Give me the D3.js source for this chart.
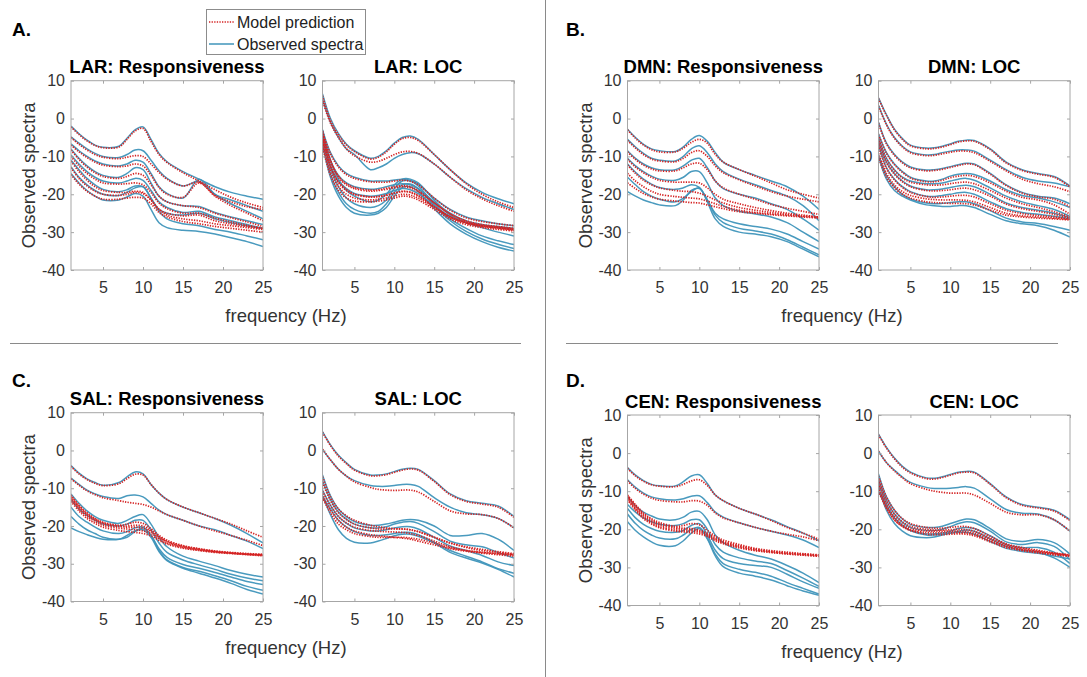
<!DOCTYPE html>
<html><head><meta charset="utf-8">
<script src="https://cdn.jsdelivr.net/npm/d3@7"></script>
<style>body{margin:0;background:#fff}svg{display:block}</style>
</head><body><svg id="c" width="1087" height="677"></svg>
<script>
// ---------- data ----------
const freqs = [1,2,3,4,5,7,8,9,10,11,12,13,15,17,19,21,23,25];
const xTickValues = [5,10,15,20,25];
const yTickValues = [-40,-30,-20,-10,0,10];
const panelTitles = ["LAR: Responsiveness","LAR: LOC","DMN: Responsiveness","DMN: LOC","SAL: Responsiveness","SAL: LOC","CEN: Responsiveness","CEN: LOC"];
const panelLetters = ["A.","B.","C.","D."];
const legendLabels = ["Model prediction","Observed spectra"];
const axisLabelX = "frequency (Hz)";
const axisLabelY = "Observed spectra";

const larRespObs = [
 [-2,-4,-5.7,-7,-7.6,-7.3,-5.2,-3,-2.2,-5.5,-9.2,-11.4,-14,-16,-18,-19.5,-20.5,-21.3],
 [-4.8,-6.5,-8,-9.2,-10,-10.3,-9.5,-8.3,-8.5,-11,-13.8,-15.8,-17.8,-16.6,-20,-21.5,-23,-24.5],
 [-6.7,-8.5,-10,-11.2,-12,-12.5,-12,-11,-11.5,-14.5,-18,-19.8,-21,-16,-20,-22.5,-24.5,-26.5],
 [-8,-10.5,-12.5,-14,-15,-15.5,-14.5,-13,-13.5,-17,-20.5,-22,-23,-23.2,-24.8,-26,-27,-28],
 [-9.6,-12,-14,-15.5,-16.5,-17,-16.5,-15.8,-16.3,-19,-22,-23.5,-24.8,-24.5,-26,-27,-28,-29],
 [-11,-13.5,-15.8,-17.5,-18.7,-19.3,-18.8,-17.8,-18,-21,-24,-25,-25.5,-25,-26.5,-27.5,-28.3,-29],
 [-12.7,-15.5,-17.5,-19,-20,-20.3,-19.5,-18.3,-18,-21,-24.5,-26.5,-27.8,-28.3,-29.3,-30,-31,-32],
 [-14.5,-17,-19,-20.5,-21.5,-21.5,-20.7,-19.8,-20.5,-24,-27.5,-28.8,-29.5,-29.8,-30.5,-31.5,-32.5,-33.8]
];
const larRespModel = [
 [-2.2,-4.2,-5.9,-7.1,-7.7,-7.5,-5.5,-3.3,-2.6,-6,-9.5,-11.6,-14.3,-16.5,-18.8,-20.8,-22.3,-23.5],
 [-5,-6.8,-8.3,-9.5,-10.2,-10.6,-10.2,-9.8,-10,-12,-14.2,-16,-17.8,-16.8,-20.3,-22,-23.3,-24],
 [-7,-8.8,-10.3,-11.5,-12.3,-12.7,-12.5,-12,-12.5,-15,-18.2,-20,-20.8,-17,-20.5,-23,-25,-27],
 [-8.3,-10.8,-12.8,-14.3,-15.3,-15.8,-15.3,-14.5,-15,-17.5,-20.5,-22,-23,-23.5,-25,-26.2,-27.3,-28.5],
 [-10,-12.5,-14.5,-16,-17,-17.3,-17.2,-17,-17.5,-19.5,-22.3,-23.8,-25,-25,-26.3,-27.3,-28.2,-29],
 [-11.3,-14,-16.3,-18,-19,-19.5,-19.5,-19.2,-19.5,-21.5,-24,-25,-25.7,-25.5,-27,-27.8,-28.5,-29],
 [-13,-15.8,-17.8,-19.2,-20,-20.3,-20,-19.5,-19.8,-21.5,-24,-25.5,-26.5,-27,-27.8,-28.3,-28.8,-29.3],
 [-14.8,-17.3,-19.2,-20.5,-21.3,-21.3,-21,-20.8,-21,-22.5,-24.8,-26,-27.2,-27.8,-28.5,-29,-29.5,-30]
];
const larLocObs = [
 [6.5,0,-4,-6.8,-8.5,-10.5,-10,-8.5,-6.5,-5,-4.6,-5.5,-9.5,-13.5,-17,-19.5,-21.2,-22.5],
 [5,-1,-5,-8,-9.5,-13.5,-13,-12,-10.5,-9.5,-9,-9.3,-12,-15.5,-18.5,-20.8,-22.5,-24],
 [-3,-9,-12.5,-14.5,-15.5,-16.5,-16.5,-16.5,-16.2,-16,-16.3,-17.3,-21,-24,-26,-27,-27.8,-28.3],
 [-4,-11,-15,-17,-18,-18.7,-18.5,-18,-17.5,-17.2,-17.5,-18.5,-22,-25,-27,-28,-28.5,-29],
 [-5,-12.5,-16.5,-18.5,-19.8,-20.5,-20.3,-19.8,-19,-18.5,-18.8,-19.8,-23,-25.8,-27.5,-28.3,-28.8,-29.3],
 [-3,-11,-16,-19,-20.5,-22,-21.5,-20,-17.5,-16,-16,-17,-21.5,-25.5,-27.5,-28.8,-30,-31],
 [-4.5,-13,-18,-21,-22.5,-23.5,-23,-21.5,-18.5,-16.5,-16.5,-17.8,-22.5,-26.5,-29,-31,-32.3,-33.3],
 [-6,-14.5,-19.5,-22.5,-24,-25,-24.5,-22.5,-19.5,-17.5,-17.3,-18.5,-23,-27,-29.8,-31.8,-33.2,-34.3],
 [-7,-15.5,-20.5,-23.5,-25,-25.5,-25,-23.5,-20.5,-18.2,-18,-19.3,-23.8,-27.8,-30.5,-32.5,-34,-35]
];
const larLocModel = [
 [6,-0.5,-4.3,-7,-8.7,-10.7,-10.2,-8.8,-6.8,-5.3,-5,-5.8,-9.5,-13.5,-17.2,-20,-22,-23.5],
 [4.8,-1.2,-5,-8,-9.8,-11.5,-11.3,-10.5,-9.5,-8.8,-8.7,-9.2,-12,-15.5,-18.8,-21.2,-23,-24.5],
 [-3.5,-9.3,-12.8,-14.8,-15.8,-16.7,-16.8,-16.8,-16.5,-16.3,-16.6,-17.5,-21,-24.2,-26.2,-27.2,-27.8,-28.3],
 [-4.3,-11.3,-15.2,-17.2,-18.2,-18.9,-18.8,-18.4,-18,-17.7,-18,-19,-22.3,-25.2,-27.2,-28.2,-28.7,-29.2],
 [-5.3,-12.8,-16.7,-18.7,-20,-20.7,-20.6,-20.2,-19.6,-19.2,-19.4,-20.3,-23.3,-26,-27.6,-28.4,-28.9,-29.4],
 [-3.3,-11,-15.5,-17.5,-18.5,-19.2,-19,-18.7,-18.3,-18,-18.3,-19.3,-22.3,-25.2,-27,-28,-28.5,-29],
 [-4.8,-12.5,-17,-19,-20,-20.7,-20.6,-20.3,-19.8,-19.3,-19.5,-20.5,-23.3,-26,-27.5,-28.3,-28.8,-29.2],
 [-6.3,-14,-18,-20,-21,-21.5,-21.3,-21,-20.5,-20,-20.2,-21,-23.5,-26,-27.5,-28.5,-29,-29.5],
 [-7.3,-15,-19,-21,-21.8,-22,-21.8,-21.5,-21,-20.5,-20.7,-21.5,-24,-26.5,-28,-28.8,-29.3,-29.7]
];
const dmnRespObs = [
 [-2.8,-5,-6.8,-8,-8.5,-8.7,-7.5,-5.5,-4.5,-6,-9,-11.5,-13.5,-15,-16.5,-18,-20.5,-24],
 [-5.5,-7.5,-9.2,-10.5,-11,-11.2,-10,-8,-7.2,-9,-12,-14,-16,-17.5,-19,-20.5,-23,-27],
 [-8.5,-10.5,-12,-13,-13.5,-13.5,-12.5,-11,-10.5,-13,-16.5,-18.5,-20,-21,-22.5,-24,-26.5,-29.5],
 [-10.5,-12.5,-14,-15.2,-16,-16.3,-15.5,-14,-14,-17,-21,-23,-24.5,-25.2,-26,-27.5,-30,-32.5],
 [-12,-14.2,-16,-17.3,-18.2,-18.7,-18.3,-17.5,-18.2,-21.5,-25,-26.5,-27.8,-28.5,-29.2,-30.5,-32.5,-34.5],
 [-15.5,-17.5,-19.3,-20.5,-21.3,-22,-21,-19.3,-18.3,-22,-26.5,-28.5,-30,-30.5,-31.2,-32.5,-34.5,-36.5],
 [-19.3,-20.5,-21.5,-22.2,-22.8,-23,-21.5,-19,-18.5,-21.5,-25.5,-27.5,-29,-29.7,-30.5,-32,-34,-36]
];
const dmnRespModel = [
 [-3,-5.2,-7,-8.2,-8.8,-8.8,-7.8,-6.3,-5.5,-6.5,-9.5,-11.5,-13.5,-15.2,-17,-18.8,-20,-21],
 [-5.8,-7.8,-9.5,-10.7,-11.2,-11.4,-10.5,-9,-8.5,-10,-12.5,-14.3,-16.2,-17.8,-19.3,-20.5,-21.3,-22],
 [-8.8,-10.8,-12.3,-13.3,-13.8,-13.8,-13,-12,-11.8,-13.5,-16.5,-18.3,-20,-21.3,-22.7,-23.7,-24.5,-25.3],
 [-10.8,-12.8,-14.3,-15.5,-16.3,-16.8,-16.8,-16.8,-17,-18.3,-20,-21.3,-22.5,-23.5,-24.3,-25,-25.5,-26],
 [-12.3,-14.5,-16.3,-17.5,-18.3,-19,-19.2,-19.3,-19.7,-20.5,-21.5,-22.3,-23.5,-24.2,-24.8,-25.3,-25.8,-26],
 [-14.5,-16.5,-18,-19.2,-20,-20.6,-20.8,-21,-21.2,-21.8,-22.5,-23.2,-24.2,-24.8,-25.2,-25.5,-25.8,-26],
 [-17,-18.5,-19.8,-20.7,-21.3,-21.8,-22,-22.2,-22.3,-22.8,-23.3,-23.8,-24.6,-25,-25.4,-25.7,-26,-26.3]
];
const dmnLocObs = [
 [5.5,1,-2.8,-5.3,-7,-7.8,-7.7,-7.3,-6.7,-6,-5.7,-5.8,-8,-11.5,-13.5,-14.5,-15.3,-17.8],
 [3.5,-1.5,-5,-7.3,-8.8,-9.6,-9.5,-9,-8.6,-8.3,-8.3,-8.6,-11,-13.5,-15.5,-16.5,-17,-18],
 [-1,-6.5,-9.5,-11.5,-12.8,-13.6,-13.5,-13.2,-12.7,-12.2,-11.8,-12,-14.5,-17.5,-19.5,-20.5,-21,-22.5],
 [-4,-9,-12,-14,-15.5,-16.5,-16.5,-16,-15.2,-14.7,-14.5,-14.8,-16.5,-18.8,-20.3,-21,-22,-23.5],
 [-5,-10.5,-13.5,-15.5,-16.5,-17.2,-17.2,-17,-16.5,-16,-15.8,-16.3,-18.3,-20.5,-22,-23,-24,-25.8],
 [-6,-11.5,-14.5,-16.5,-17.8,-18.8,-18.8,-18.6,-18.2,-17.8,-17.6,-18,-20,-22.3,-23.5,-24.2,-25,-26.2],
 [-7,-13,-16,-18,-19.3,-20.5,-20.6,-20.3,-20,-19.6,-19.5,-20,-22,-23.8,-24.8,-25.3,-25.8,-26.5],
 [-9.5,-15,-18,-20,-21.2,-22.3,-22.5,-22.4,-22.2,-22,-22,-22.5,-24.3,-26.3,-27.3,-27.7,-28.5,-29.5],
 [-10,-16,-19,-20.5,-21.5,-22.8,-23,-23.2,-23.2,-23,-23,-23.5,-25.3,-27,-27.8,-28.3,-29.5,-31.3]
];
const dmnLocModel = [
 [5.3,0.8,-3,-5.5,-7.2,-8,-7.9,-7.5,-6.9,-6.2,-5.9,-6,-8.2,-11.7,-13.7,-14.7,-15.5,-18],
 [3.3,-1.7,-5.2,-7.5,-9,-9.8,-9.7,-9.3,-8.9,-8.6,-8.6,-9,-11.3,-13.8,-16,-17.2,-18,-19.3],
 [-1.2,-6.7,-9.7,-11.7,-13,-13.8,-13.7,-13.4,-12.9,-12.4,-12,-12.2,-14.7,-17.7,-19.7,-20.7,-21.3,-23.3],
 [-4.2,-9.2,-12.2,-14.2,-15.7,-16.7,-16.7,-16.3,-15.6,-15.2,-15,-15.3,-17,-19.2,-20.8,-21.5,-22.8,-25.3],
 [-5.2,-10.7,-13.7,-15.7,-16.8,-17.5,-17.6,-17.5,-17.2,-16.9,-16.8,-17.2,-19,-21,-22.5,-23.5,-24.6,-26],
 [-6.2,-11.7,-14.7,-16.7,-18,-19,-19.1,-19,-18.8,-18.5,-18.4,-18.8,-20.5,-22.6,-23.8,-24.5,-25.3,-26.3],
 [-7.2,-13.2,-16.2,-18.2,-19.5,-20.6,-20.8,-20.7,-20.5,-20.3,-20.3,-20.7,-22.5,-24.2,-25.1,-25.6,-26,-26.6],
 [-9.2,-14.5,-17.5,-19.3,-20.3,-21.2,-21.4,-21.5,-21.5,-21.5,-21.6,-22,-23.5,-25,-25.7,-26,-26.3,-26.6],
 [-10.2,-15.5,-18.3,-20,-21,-22,-22.2,-22.3,-22.4,-22.4,-22.5,-22.8,-24.2,-25.5,-26,-26.3,-26.5,-26.8]
];
const salRespObs = [
 [-4,-6,-7.5,-8.5,-9.2,-8.5,-7,-5.7,-6.2,-9,-11.3,-13,-15,-16.5,-18,-19.8,-22,-24.5],
 [-7.3,-9,-10.5,-11.5,-12.2,-12.7,-12,-11.8,-12.3,-14,-15.8,-17,-18.5,-20,-21,-22.5,-24,-26],
 [-11.5,-14,-16,-17.5,-18.5,-19.3,-18.5,-17.5,-17,-19.5,-23,-25.5,-28,-29.3,-30.5,-31.8,-32.8,-33.5],
 [-13,-15.5,-17.2,-18.5,-19.5,-20,-19.5,-18.5,-18.5,-21,-24.5,-27,-29,-30.3,-31.5,-32.8,-33.8,-34.5],
 [-15,-17.5,-19,-20.3,-21.3,-22,-21.5,-20.5,-20.3,-22.5,-26,-28.3,-30.2,-31.2,-32.3,-33.5,-34.7,-35.5],
 [-17.5,-19.5,-21,-22,-23,-23.5,-23,-21.5,-20.5,-22.5,-26.5,-29,-31,-32,-33.2,-34.5,-36,-37],
 [-20.5,-21.5,-22.3,-23,-23.5,-23.5,-22.5,-21.3,-21,-23,-26.8,-29.2,-31.2,-32.5,-33.8,-35.2,-36.8,-38]
];
const salRespModel = [
 [-4.2,-6.2,-7.7,-8.7,-9.3,-8.8,-7.5,-6.3,-6.5,-9,-11.3,-13,-15,-16.5,-18,-19.5,-21.3,-23],
 [-7.5,-9.2,-10.7,-11.7,-12.5,-13.3,-13.7,-14,-14.3,-15,-16,-17,-18.5,-20,-21.3,-22.5,-23.8,-25.2],
 [-11.8,-14.5,-16.5,-18,-19,-19.8,-19.5,-19,-19.3,-20.7,-22.5,-23.8,-25.2,-26,-26.6,-27,-27.3,-27.5],
 [-12.5,-15,-17,-18.4,-19.4,-20.2,-20.3,-20.3,-20.6,-21.5,-23,-24.2,-25.5,-26.2,-26.8,-27.2,-27.5,-27.7],
 [-13,-15.5,-17.5,-18.8,-19.8,-20.6,-20.8,-21,-21.3,-22,-23.4,-24.5,-25.7,-26.4,-26.9,-27.2,-27.5,-27.8],
 [-12.2,-14.8,-16.8,-18.2,-19.2,-20,-20,-19.8,-20,-21.2,-22.8,-24,-25.3,-26.1,-26.7,-27.1,-27.4,-27.6],
 [-13.5,-16,-18,-19.3,-20.3,-21.2,-21.5,-21.7,-22,-22.6,-23.8,-24.8,-25.9,-26.5,-27,-27.3,-27.6,-27.9]
];
const salLocObs = [
 [5,1.5,-1.3,-3.3,-5,-6.5,-6.5,-6.2,-5.6,-5,-4.7,-5,-8,-11.5,-13.3,-14,-14.7,-17.5],
 [0.3,-2.5,-5,-6.8,-8,-9.3,-9.5,-9.5,-9.3,-9,-9,-9.5,-12.5,-15,-16.5,-17,-18,-20.5],
 [-6.5,-12,-15.5,-17.5,-18.8,-19.8,-19.8,-19.5,-19,-18.5,-18.3,-18.5,-20,-22.5,-22.5,-22,-23.5,-26.5],
 [-8,-13,-16.3,-18.2,-19.5,-20.5,-20.5,-20.2,-19.5,-19,-18.8,-19.3,-21.5,-24,-25,-25.5,-27,-28.5],
 [-10.5,-14.5,-17.5,-19.3,-20.5,-21.3,-21.3,-21,-20.5,-20.2,-20.2,-20.8,-23,-25.3,-26.5,-27.8,-29.5,-30.5],
 [-12,-15.5,-18.5,-20.3,-21.5,-22.5,-22.5,-22.3,-22,-21.7,-21.7,-22.3,-24.3,-26.5,-28,-29.5,-31.3,-32.5],
 [-12,-17,-21,-23.3,-24.3,-24.5,-24,-23.3,-22.6,-22.2,-22.2,-22.7,-24.5,-27,-28.5,-29.8,-31.5,-33.5]
];
const salLocModel = [
 [4.8,1.3,-1.5,-3.5,-5.2,-6.7,-6.7,-6.4,-5.8,-5.2,-4.9,-5.2,-8.2,-11.7,-13.5,-14.2,-15,-17.7],
 [0.3,-2.5,-5,-6.8,-8.3,-9.8,-10.3,-10.5,-10.6,-10.5,-10.5,-11,-13.5,-16,-16.8,-17,-18,-20.5],
 [-7,-12.3,-15.5,-17.3,-18.5,-19.8,-20.2,-20.5,-20.7,-20.8,-21,-21.5,-23,-24.5,-25.5,-26.2,-26.8,-27.3],
 [-8.5,-13.3,-16.5,-18.3,-19.5,-20.5,-20.8,-20.8,-20.8,-20.8,-21,-21.5,-23,-24.5,-25.7,-26.5,-27,-27.5],
 [-10.8,-14.7,-17.5,-19.2,-20.3,-21.2,-21.4,-21.5,-21.6,-21.7,-22,-22.5,-24,-25.5,-26.5,-27,-27.4,-27.7],
 [-12.2,-15.8,-18.5,-20.3,-21.3,-22.3,-22.6,-22.8,-23,-23.2,-23.5,-24,-25,-26,-26.7,-27.2,-27.6,-28],
 [-12.5,-16.5,-19.5,-21,-22,-22.8,-23,-23,-23,-23,-23.2,-23.5,-24.5,-25.8,-26.5,-27,-27.3,-27.6]
];
const cenRespObs = [
 [-3.8,-5.8,-7.2,-8.2,-8.6,-8.6,-7.5,-6,-5.7,-8,-11,-12.5,-14.5,-16,-17.5,-19.3,-21,-23],
 [-7,-9,-10.5,-11.5,-12,-12.3,-12,-11.3,-11.2,-13,-15.5,-16.8,-18.3,-19.5,-20.5,-21.5,-22.8,-24.8],
 [-11.5,-13.8,-15.5,-16.5,-17.3,-17.5,-16.8,-15.5,-15.3,-17.5,-21.5,-23.5,-25.5,-26.8,-27.8,-29.5,-31.5,-34],
 [-13.5,-15.5,-17,-18,-18.7,-19,-18.5,-17.5,-17.5,-20,-24,-26,-27.5,-28.3,-29,-30.8,-32.8,-35],
 [-14.5,-17,-18.7,-19.8,-20.5,-20.8,-20.3,-19,-18.5,-21.5,-25.5,-27.7,-29,-29.5,-30,-31.8,-33.8,-35.5],
 [-16,-18.5,-20.3,-21.5,-22.3,-22.5,-21.5,-20,-19.5,-22.3,-26.5,-29,-30.5,-31.3,-32.3,-34,-35.5,-37],
 [-18,-20.3,-22,-23.3,-24.2,-24.3,-23,-21,-19.8,-22.5,-27,-29.8,-31.5,-32.3,-33.3,-34.8,-36.2,-37.3]
];
const cenRespModel = [
 [-4,-6,-7.4,-8.3,-8.7,-8.8,-8.2,-7.3,-7,-8.5,-11,-12.5,-14.5,-16,-17.7,-19.5,-21,-22.6],
 [-7.3,-9.3,-10.8,-11.8,-12.4,-12.8,-12.8,-12.5,-12.6,-13.7,-15.7,-17,-18.3,-19.5,-20.5,-21.3,-22,-23],
 [-11,-13.5,-15.7,-17.2,-18.2,-19.2,-19,-18.5,-18.8,-20.3,-21.8,-22.8,-24,-25,-25.6,-26,-26.4,-26.7],
 [-11.3,-13.8,-16,-17.5,-18.5,-19.5,-19.7,-19.8,-20.2,-21,-22.2,-23.2,-24.3,-25.2,-25.8,-26.2,-26.5,-26.8],
 [-11.6,-14.2,-16.4,-17.9,-18.9,-19.8,-20,-20.2,-20.5,-21.3,-22.5,-23.4,-24.5,-25.3,-25.9,-26.3,-26.6,-26.9],
 [-12,-14.6,-16.8,-18.3,-19.3,-20.2,-20.4,-20.5,-20.8,-21.6,-22.7,-23.6,-24.7,-25.5,-26,-26.4,-26.7,-27],
 [-12.3,-15,-17.2,-18.6,-19.6,-20.5,-20.7,-20.9,-21.2,-21.9,-23,-23.8,-24.9,-25.6,-26.1,-26.5,-26.8,-27.1]
];
const cenLocObs = [
 [5,1.5,-1.3,-3.5,-5,-6.5,-6.6,-6.2,-5.6,-5,-4.8,-5,-8,-11.5,-13.5,-14.2,-15,-17.5],
 [0.5,-2.5,-4.5,-6.3,-7.7,-9,-9.3,-9.3,-9.2,-9,-8.8,-9.2,-12,-14.8,-15.8,-16,-17.5,-20.5],
 [-5.5,-11.5,-15,-17.3,-18.7,-19.5,-19.5,-19.2,-18.5,-17.8,-17.3,-17.5,-19.8,-22.5,-23.2,-22.7,-23.5,-26.5],
 [-7,-12.5,-16,-18.2,-19.5,-20.3,-20.3,-20,-19.3,-18.5,-18,-18.3,-20.5,-23.3,-24,-23.5,-24.5,-28],
 [-8,-13.5,-17,-19,-20.3,-21.2,-21.2,-21,-20.5,-19.8,-19.5,-19.8,-21.7,-24,-24.8,-24.8,-26,-29],
 [-9,-15,-18.5,-20.5,-21.7,-22.2,-22,-21.5,-21,-20.5,-20.2,-20.5,-22.5,-24.5,-25.5,-26,-27.5,-30],
 [-10,-14,-17,-19,-20.3,-21.5,-21.5,-21.3,-21,-20.8,-20.8,-21.3,-23.2,-25,-25.8,-26.3,-27,-27.8]
];
const cenLocModel = [
 [4.8,1.3,-1.5,-3.7,-5.2,-6.7,-6.8,-6.4,-5.8,-5.2,-5,-5.2,-8.2,-11.7,-13.7,-14.4,-15.2,-17.7],
 [0.5,-2.5,-4.7,-6.5,-8,-9.5,-10,-10.3,-10.5,-10.5,-10.5,-11,-13.2,-15.5,-16.2,-16.2,-17.5,-20.5],
 [-6,-11.5,-15,-17.2,-18.5,-19.5,-19.7,-19.7,-19.5,-19.3,-19.3,-19.8,-21.8,-23.8,-24.8,-25.5,-26.2,-26.7],
 [-7,-12.5,-16,-18,-19.2,-20,-20.2,-20.2,-20.1,-20,-20.1,-20.5,-22.3,-24,-25,-25.7,-26.3,-26.8],
 [-8,-13.5,-16.8,-18.7,-19.8,-20.4,-20.5,-20.5,-20.5,-20.5,-20.6,-21,-22.7,-24.3,-25.3,-25.9,-26.4,-26.9],
 [-9,-14.3,-17.5,-19.2,-20.2,-20.8,-20.9,-20.9,-20.9,-20.9,-21,-21.4,-23,-24.5,-25.4,-26,-26.5,-27],
 [-10,-14.5,-17.5,-19.3,-20.3,-21.3,-21.4,-21.4,-21.3,-21.2,-21.3,-21.7,-23.3,-24.8,-25.6,-26.2,-26.7,-27.1]
];

// ---------- layout (positions only) ----------
const obsSets = [larRespObs, larLocObs, dmnRespObs, dmnLocObs, salRespObs, salLocObs, cenRespObs, cenLocObs];
const modelSets = [larRespModel, larLocModel, dmnRespModel, dmnLocModel, salRespModel, salLocModel, cenRespModel, cenLocModel];
const boxes = [
  {x0:71, x1:263, y0:80.7, y1:270, ylab:true},
  {x0:322.5, x1:514, y0:80.7, y1:270},
  {x0:627.5, x1:819, y0:80.7, y1:270, ylab:true},
  {x0:878.5, x1:1070, y0:80.7, y1:270},
  {x0:71, x1:263, y0:412.7, y1:601.5, ylab:true},
  {x0:322.5, x1:514, y0:412.7, y1:601.5},
  {x0:627.5, x1:819, y0:415, y1:605.5, ylab:true},
  {x0:878.5, x1:1070, y0:415, y1:605.5}
];
const letterPos = [[12,36],[566,36],[12,387],[566,387]];
const xLabelPos = [[286,322],[842,322],[286,654],[842,658]];

const FONT = "'Liberation Sans', Arial, Helvetica, sans-serif";
const OBS_COLOR = "#3f95ba";
const MODEL_COLOR = "#d42222";
const svg = d3.select("#c").style("font-family", FONT);
svg.append("rect").attr("width",1087).attr("height",677).attr("fill","#fff");

// dividers
svg.append("line").attr("x1",545.5).attr("x2",545.5).attr("y1",0).attr("y2",677).attr("stroke","#8a8a8a").attr("stroke-width",1);
svg.append("line").attr("x1",10).attr("x2",521).attr("y1",343.5).attr("y2",343.5).attr("stroke","#8a8a8a").attr("stroke-width",1);
svg.append("line").attr("x1",566).attr("x2",1058).attr("y1",343.5).attr("y2",343.5).attr("stroke","#8a8a8a").attr("stroke-width",1);

boxes.forEach((b, i) => {
  const x = d3.scaleLinear().domain([1,25]).range([b.x0, b.x1]);
  const y = d3.scaleLinear().domain([-40,10]).range([b.y1, b.y0]);
  const g = svg.append("g");
  const clipId = "clip" + i;
  g.append("clipPath").attr("id", clipId).append("rect")
    .attr("x", b.x0).attr("y", b.y0).attr("width", b.x1 - b.x0).attr("height", b.y1 - b.y0);

  const line = d3.line().x((d, k) => x(freqs[k])).y(d => y(d)).curve(d3.curveCatmullRom.alpha(0.5));
  const lines = g.append("g").attr("clip-path", `url(#${clipId})`);
  lines.selectAll("path.obs").data(obsSets[i]).join("path").attr("class","obs")
    .attr("d", line).attr("fill","none").attr("stroke", OBS_COLOR).attr("stroke-width",1.5).attr("stroke-opacity",0.95);
  lines.selectAll("path.mod").data(modelSets[i]).join("path").attr("class","mod")
    .attr("d", line).attr("fill","none").attr("stroke", MODEL_COLOR).attr("stroke-width",1.7)
    .attr("stroke-dasharray","1.3,1.3");

  // box
  g.append("rect").attr("x", b.x0).attr("y", b.y0).attr("width", b.x1 - b.x0).attr("height", b.y1 - b.y0)
    .attr("fill","none").attr("stroke","#a6a6a6").attr("stroke-width",1);

  const styleAxis = sel => {
    sel.select(".domain").remove();
    sel.selectAll(".tick line").attr("stroke","#a6a6a6");
    sel.selectAll(".tick text").attr("fill","#333").style("font-size","16px").style("font-family", FONT);
  };
  g.append("g").attr("transform", `translate(0,${b.y1})`)
    .call(d3.axisBottom(x).tickValues(xTickValues).tickSize(-3).tickPadding(12).tickFormat(d3.format("d"))).call(styleAxis);
  g.append("g").attr("transform", `translate(0,${b.y0})`)
    .call(d3.axisTop(x).tickValues(xTickValues).tickSize(-3).tickFormat("")).call(styleAxis);
  g.append("g").attr("transform", `translate(${b.x0},0)`)
    .call(d3.axisLeft(y).tickValues(yTickValues).tickSize(-3).tickPadding(6).tickFormat(d3.format("d"))).call(styleAxis);
  g.append("g").attr("transform", `translate(${b.x1},0)`)
    .call(d3.axisRight(y).tickValues(yTickValues).tickSize(-3).tickFormat("")).call(styleAxis);
  g.selectAll(".tick text").text(function(){ return this.textContent.replace("\u2212","-"); });

  // title
  g.append("text").attr("x", (b.x0 + b.x1) / 2).attr("y", b.y0 - 7.5).attr("text-anchor","middle")
    .attr("font-weight","bold").attr("font-size","18.5px").attr("fill","#000").text(panelTitles[i]);

  if (b.ylab) {
    const cy = (b.y0 + b.y1) / 2;
    g.append("text").attr("transform", `translate(${b.x0 - 36},${cy}) rotate(-90)`)
      .attr("text-anchor","middle").attr("font-size","18.5px").attr("fill","#333").text(axisLabelY);
  }
});

panelLetters.forEach((t, i) => {
  svg.append("text").attr("x", letterPos[i][0]).attr("y", letterPos[i][1]).attr("font-weight","bold")
    .attr("font-size","19px").attr("fill","#000").text(t);
});
xLabelPos.forEach(p => {
  svg.append("text").attr("x", p[0]).attr("y", p[1]).attr("text-anchor","middle")
    .attr("font-size","18.5px").attr("fill","#333").text(axisLabelX);
});

// legend
const lg = svg.append("g");
lg.append("rect").attr("x",206.5).attr("y",9.5).attr("width",159).attr("height",45)
  .attr("fill","#fff").attr("stroke","#8c8c8c").attr("stroke-width",1);
lg.append("line").attr("x1",209).attr("x2",234).attr("y1",22).attr("y2",22)
  .attr("stroke",MODEL_COLOR).attr("stroke-width",1.7).attr("stroke-dasharray","1.3,1.3");
lg.append("line").attr("x1",209).attr("x2",234).attr("y1",44).attr("y2",44)
  .attr("stroke",OBS_COLOR).attr("stroke-width",1.5);
legendLabels.forEach((t, k) => {
  lg.append("text").attr("x",237).attr("y", k === 0 ? 27.5 : 49.5).attr("font-size","16px").attr("fill","#222").text(t);
});
</script>
</body></html>
